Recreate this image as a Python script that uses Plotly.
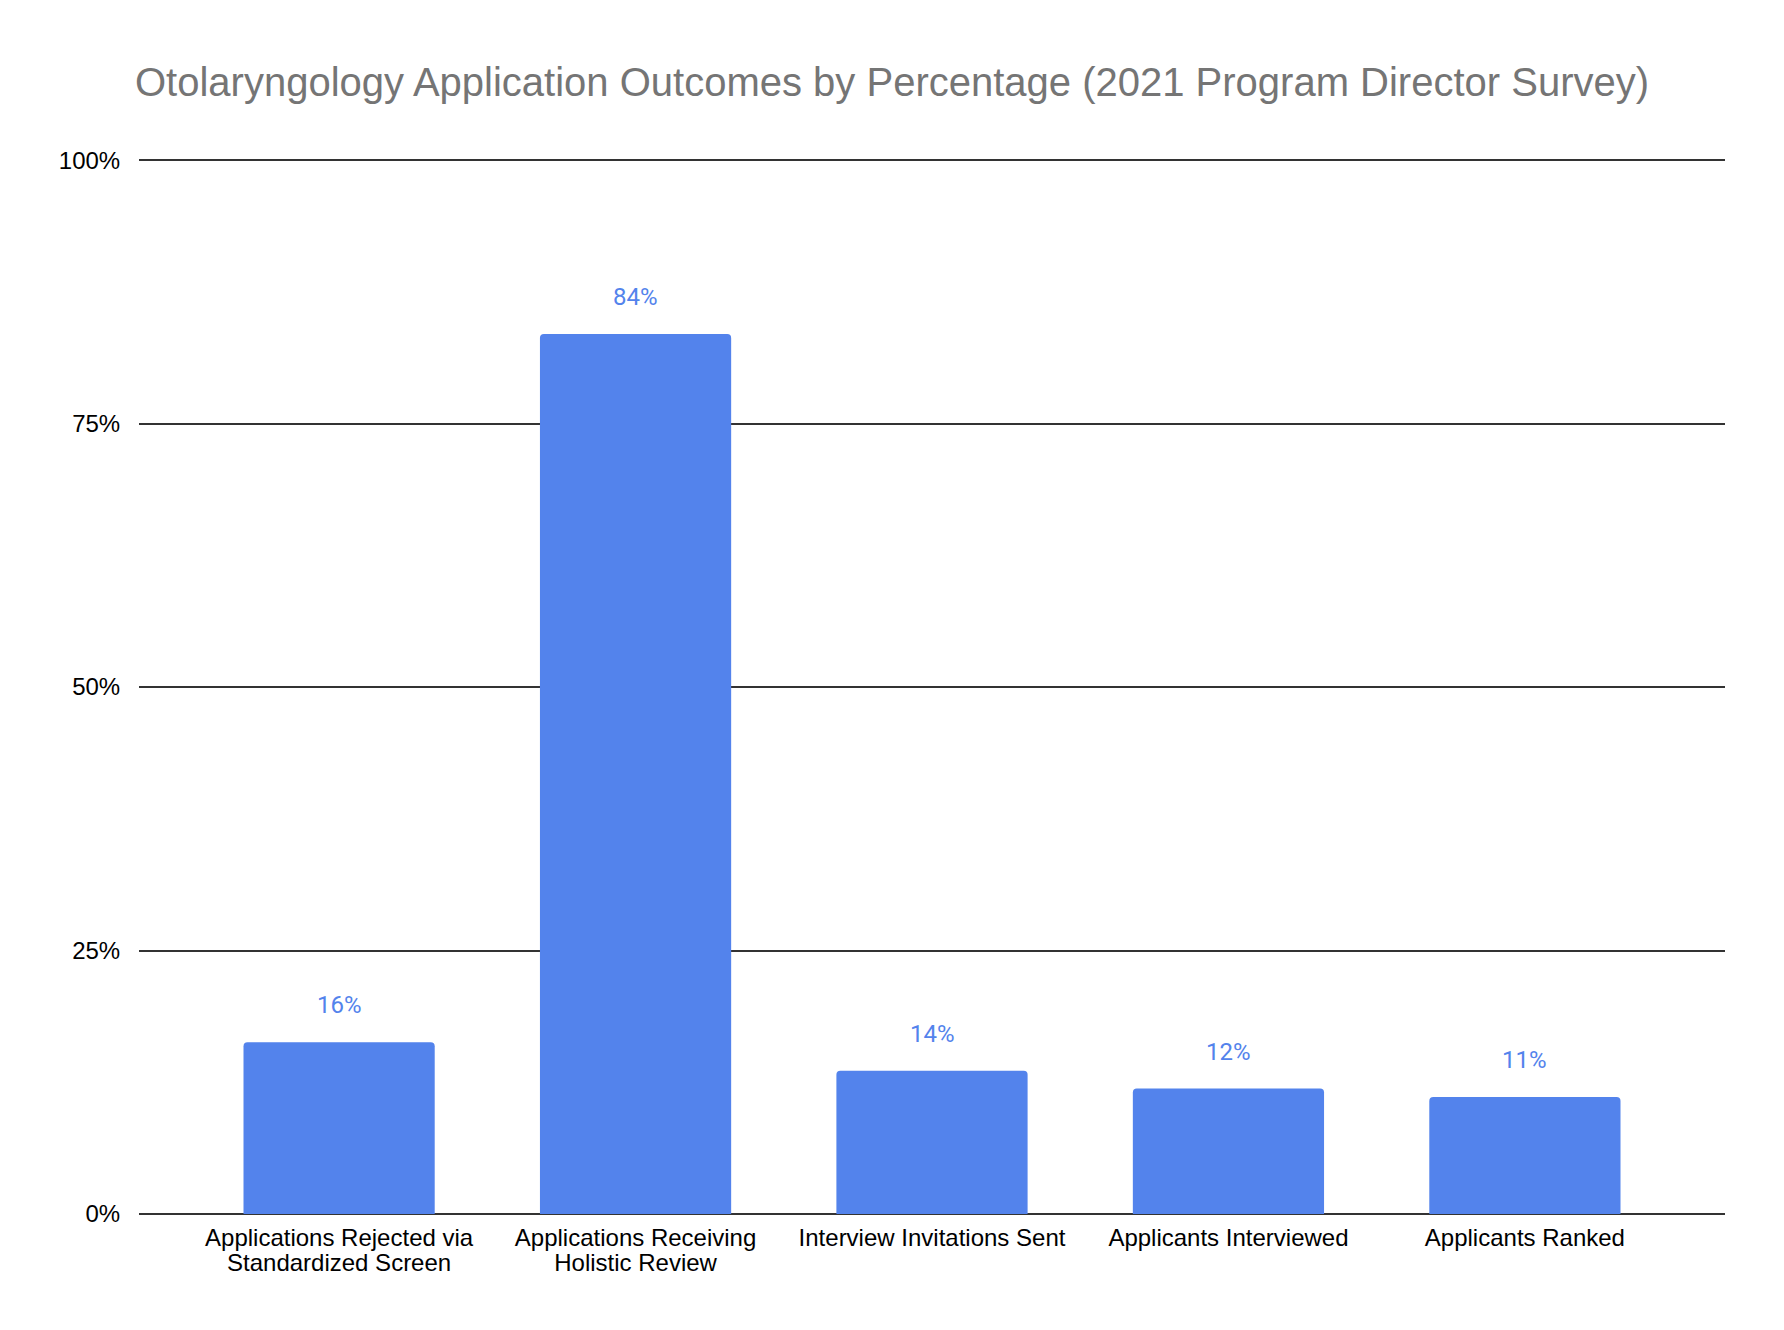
import plotly.graph_objects as go

categories = [
    "Applications Rejected via<br>Standardized Screen",
    "Applications Receiving<br>Holistic Review",
    "Interview Invitations Sent",
    "Applicants Interviewed",
    "Applicants Ranked",
]
percentages = [16.3, 83.5, 13.6, 11.9, 11.1]
y_ticks = [0, 25, 50, 75, 100]
title_text = "Otolaryngology Application Outcomes by Percentage (2021 Program Director Survey)"

BAR_COLOR = "#5383EC"
GRID_COLOR = "#333333"

x_idx = list(range(len(categories)))
tick_text = [
    "<br>".join(f'<span style="font-size:24px">{ln}</span>' for ln in c.split("<br>"))
    for c in categories
]

fig = go.Figure()
fig.add_trace(go.Bar(
    x=x_idx,
    y=percentages,
    marker=dict(color=BAR_COLOR, cornerradius=4, line=dict(width=0)),
    hoverinfo="skip",
))

for xi, v in zip(x_idx, percentages):
    fig.add_annotation(
        x=xi, y=v, xref="x", yref="y",
        text=f"{round(v)}%",
        showarrow=False,
        yanchor="middle",
        yshift=37,
        font=dict(family="Roboto", size=24, color=BAR_COLOR),
    )

fig.update_layout(
    width=1784, height=1330, autosize=False,
    margin=dict(l=139, r=59, t=158, b=116, pad=0),
    paper_bgcolor="white", plot_bgcolor="white",
    bargap=0.355,
    showlegend=False,
    title=dict(
        text=title_text,
        x=0.5, xanchor="center", xref="container",
        y=1 - 82 / 1330, yanchor="middle", yref="container",
        font=dict(family="Liberation Sans", size=40, color="#757575"),
    ),
    font=dict(family="Liberation Sans", color="#000000"),
)

fig.update_xaxes(
    tickmode="array", tickvals=x_idx, ticktext=tick_text,
    range=[-0.675, len(categories) - 1 + 0.675],
    showgrid=False, zeroline=False, showline=False,
    ticks="outside", ticklen=8, tickcolor="rgba(0,0,0,0)",
    tickfont=dict(family="Liberation Sans", size=19, color="#000000"),
)

fig.update_yaxes(
    range=[0, 100.2],
    tickmode="array", tickvals=y_ticks,
    ticktext=[f"{t}%" for t in y_ticks],
    showgrid=True, gridcolor=GRID_COLOR, gridwidth=2,
    zeroline=True, zerolinecolor=GRID_COLOR, zerolinewidth=2,
    showline=False,
    ticks="outside", ticklen=13, tickcolor="rgba(0,0,0,0)",
    tickfont=dict(family="Liberation Sans", size=24, color="#000000"),
)

fig.write_html("out.html")
